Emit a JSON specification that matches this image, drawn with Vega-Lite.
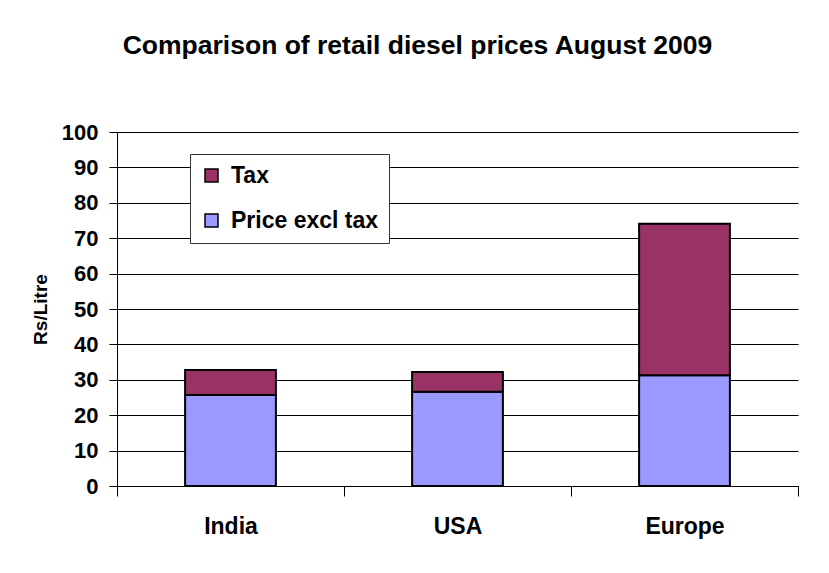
{
  "$schema": "https://vega.github.io/schema/vega-lite/v6.json",
  "width": 681,
  "height": 354,
  "autosize": {"type": "none"},
  "padding": {"left": 117, "top": 132, "right": 31, "bottom": 87},
  "background": "white",
  "title": {
    "text": "Comparison of retail diesel prices August 2009",
    "font": "Liberation Sans",
    "fontSize": 26.5,
    "fontWeight": "bold",
    "color": "black",
    "anchor": "middle",
    "baseline": "alphabetic",
    "dx": -40,
    "offset": 41
  },
  "data": {
    "values": [
      {"region": "India", "component": "Price excl tax", "value": 25.7},
      {"region": "India", "component": "Tax", "value": 7.1},
      {"region": "USA", "component": "Price excl tax", "value": 26.6},
      {"region": "USA", "component": "Tax", "value": 5.6},
      {"region": "Europe", "component": "Price excl tax", "value": 31.3},
      {"region": "Europe", "component": "Tax", "value": 42.8}
    ]
  },
  "mark": {"type": "bar", "stroke": "black", "strokeWidth": 2, "width": {"band": 0.4}},
  "encoding": {
    "x": {
      "field": "region",
      "type": "nominal",
      "sort": ["India", "USA", "Europe"],
      "scale": {"paddingInner": 0, "paddingOuter": 0},
      "axis": {
        "title": null,
        "labelAngle": 0,
        "labelFont": "Liberation Sans",
        "labelFontSize": 23,
        "labelFontWeight": "bold",
        "labelColor": "black",
        "labelPadding": 19,
        "domainColor": "black",
        "tickColor": "black",
        "tickSize": 10,
        "tickBand": "extent"
      }
    },
    "y": {
      "field": "value",
      "type": "quantitative",
      "stack": "zero",
      "scale": {"domain": [0, 100]},
      "axis": {
        "title": "Rs/Litre",
        "titleFont": "Liberation Sans",
        "titleFontSize": 19,
        "titleFontWeight": "bold",
        "titleColor": "black",
        "titlePadding": 11,
        "values": [0, 10, 20, 30, 40, 50, 60, 70, 80, 90, 100],
        "labelFont": "Liberation Sans",
        "labelFontSize": 22,
        "labelFontWeight": "bold",
        "labelColor": "black",
        "labelPadding": 11,
        "grid": true,
        "gridColor": "black",
        "gridOpacity": 1,
        "gridWidth": 1,
        "domainColor": "black",
        "tickColor": "black",
        "tickSize": 8
      }
    },
    "color": {
      "field": "component",
      "type": "nominal",
      "scale": {"domain": ["Tax", "Price excl tax"], "range": ["#993366", "#9999FF"]},
      "legend": {
        "title": null,
        "orient": "none",
        "legendX": 73,
        "legendY": 22,
        "fillColor": "white",
        "strokeColor": "#333333",
        "padding": 10,
        "rowPadding": 21,
        "symbolType": "square",
        "symbolSize": 169,
        "symbolStrokeColor": "black",
        "symbolStrokeWidth": 1.5,
        "symbolOpacity": 1,
        "labelFont": "Liberation Sans",
        "labelFontSize": 23,
        "labelFontWeight": "bold",
        "labelColor": "black",
        "labelOffset": 8
      }
    },
    "order": {"field": "component", "sort": "ascending"}
  },
  "config": {"view": {"stroke": null}}
}
